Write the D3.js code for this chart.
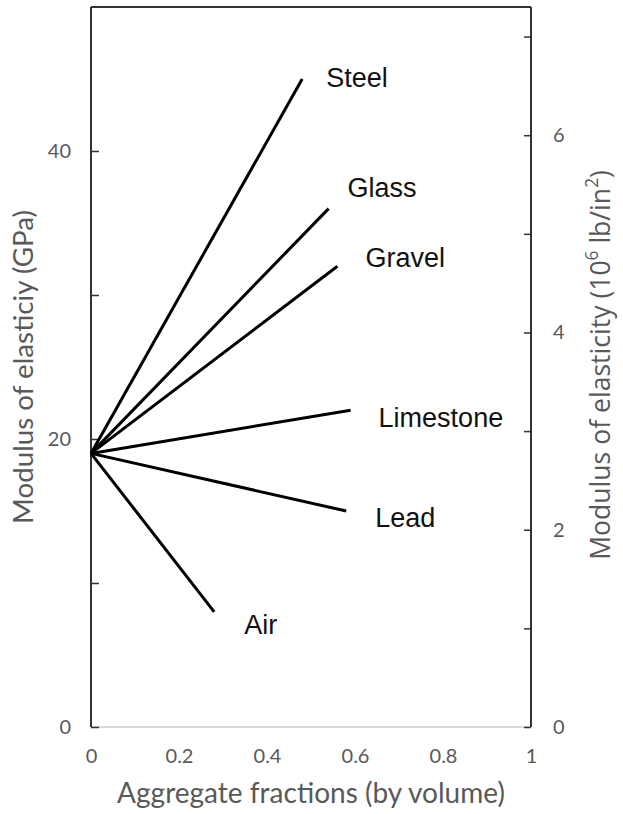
<!DOCTYPE html>
<html>
<head>
<meta charset="utf-8">
<script src="https://cdn.jsdelivr.net/npm/d3@7"></script>
<style>
  html, body { margin: 0; padding: 0; background: #fff; }
  svg { display: block; }
</style>
</head>
<body>
<svg id="chart" width="623" height="814"></svg>
<script>
// Composite modulus of elasticity vs. aggregate volume fraction
const materials    = ["Steel", "Glass", "Gravel", "Limestone", "Lead", "Air"];
const startFraction = 0;
const startModulus  = 19;                       // GPa, paste matrix
const endFraction  = [0.48, 0.54, 0.56, 0.59, 0.58, 0.28];
const endModulus   = [45, 36, 32, 22, 15, 8];   // GPa

const xTicks      = [0, 0.2, 0.4, 0.6, 0.8, 1];
const leftTicks   = [0, 10, 20, 30, 40];
const leftLabels  = [0, 20, 40];
const rightTicks  = [0, 1, 2, 3, 4, 5, 6, 7];
const rightLabels = [0, 2, 4, 6];

// label placement relative to each line's end (px)
const labelOffset = [[24, 8], [19, -12], [28, 1], [28, 17], [29, 16], [30, 22]];

const svg = d3.select("#chart");
const x  = d3.scaleLinear().domain([0, 1]).range([91, 531]);
const yL = d3.scaleLinear().domain([0, 50]).range([727, 7]);
const yR = d3.scaleLinear().domain([0, 7.31]).range([727, 6]);

const tickFont = "Lato, 'Noto Sans', sans-serif";
const grey = "#595959";

// frame: top line, bottom baseline
svg.append("line").attr("x1", x(0)).attr("x2", x(1)).attr("y1", yL(50)).attr("y2", yL(50))
  .attr("stroke", "#333").attr("stroke-width", 2);
svg.append("line").attr("x1", x(0)).attr("x2", x(1)).attr("y1", yL(0)).attr("y2", yL(0))
  .attr("stroke", "#d9d9d9").attr("stroke-width", 2);

function styleAxis(g) {
  g.select(".domain").attr("stroke", "#333").attr("stroke-width", 2);
  g.selectAll(".tick line").attr("stroke", "#333").attr("stroke-width", 1.5);
  g.selectAll(".tick text").attr("fill", grey).style("font-family", tickFont).style("font-size", "20px");
}

// left axis (GPa), ticks pointing inward
const gL = svg.append("g").attr("transform", `translate(${x(0)},0)`)
  .call(d3.axisLeft(yL).tickValues(leftTicks).tickSizeInner(-8).tickSizeOuter(0).tickPadding(20)
    .tickFormat(d => leftLabels.includes(d) ? d : ""));
gL.select(".domain").attr("d", `M0,${yL(0)}V${yL(50)}`);
styleAxis(gL);

// right axis (10^6 lb/in^2), ticks pointing inward
const gR = svg.append("g").attr("transform", `translate(${x(1)},0)`)
  .call(d3.axisRight(yR).tickValues(rightTicks).tickSizeInner(-7).tickSizeOuter(0).tickPadding(22)
    .tickFormat(d => rightLabels.includes(d) ? d : ""));
gR.select(".domain").attr("d", `M0,${yL(0)}V${yL(50)}`);
styleAxis(gR);

// bottom axis
const gB = svg.append("g").attr("transform", `translate(0,${yL(0)})`)
  .call(d3.axisBottom(x).tickValues(xTicks).tickSize(0).tickPadding(22)
    .tickFormat(d => d === 0 ? "0" : d === 1 ? "1" : d3.format(".1f")(d)));
gB.select(".domain").remove();
styleAxis(gB);

// lines from the matrix point to each aggregate
const g = svg.append("g");
materials.forEach((m, i) => {
  g.append("line")
    .attr("x1", x(startFraction)).attr("y1", yL(startModulus))
    .attr("x2", x(endFraction[i])).attr("y2", yL(endModulus[i]))
    .attr("stroke", "#000").attr("stroke-width", 3);
  g.append("text")
    .attr("x", x(endFraction[i]) + labelOffset[i][0])
    .attr("y", yL(endModulus[i]) + labelOffset[i][1])
    .attr("fill", "#111")
    .style("font-family", "'Liberation Sans', Arial, sans-serif")
    .style("font-size", "27px")
    .text(m);
});

// fit a title to a given length by scaling its font size
function fit(t, target) {
  const len = t.node().getComputedTextLength();
  const fs = parseFloat(t.style("font-size"));
  t.style("font-size", (fs * target / len) + "px");
}

const leftTitle = svg.append("text")
  .attr("transform", "translate(33,367) rotate(-90)")
  .attr("text-anchor", "middle").attr("fill", grey)
  .style("font-family", tickFont).style("font-size", "22px")
  .text("Modulus of elasticiy (GPa)");
fit(leftTitle, 314);

const bottomTitle = svg.append("text")
  .attr("x", 311).attr("y", 803)
  .attr("text-anchor", "middle").attr("fill", grey)
  .style("font-family", tickFont).style("font-size", "22px")
  .text("Aggregate fractions (by volume)");
fit(bottomTitle, 388);

const rightTitle = svg.append("text")
  .attr("transform", "translate(610,365) rotate(-90)")
  .attr("text-anchor", "middle").attr("fill", grey)
  .style("font-family", "'Open Sans', sans-serif").style("font-size", "20px");
rightTitle.append("tspan").text("Modulus of elasticity (10");
rightTitle.append("tspan").attr("baseline-shift", "70%").style("font-size", "0.65em").text("6");
rightTitle.append("tspan").text(" lb/in");
rightTitle.append("tspan").attr("baseline-shift", "70%").style("font-size", "0.65em").text("2");
rightTitle.append("tspan").text(")");
fit(rightTitle, 390);
</script>
</body>
</html>
